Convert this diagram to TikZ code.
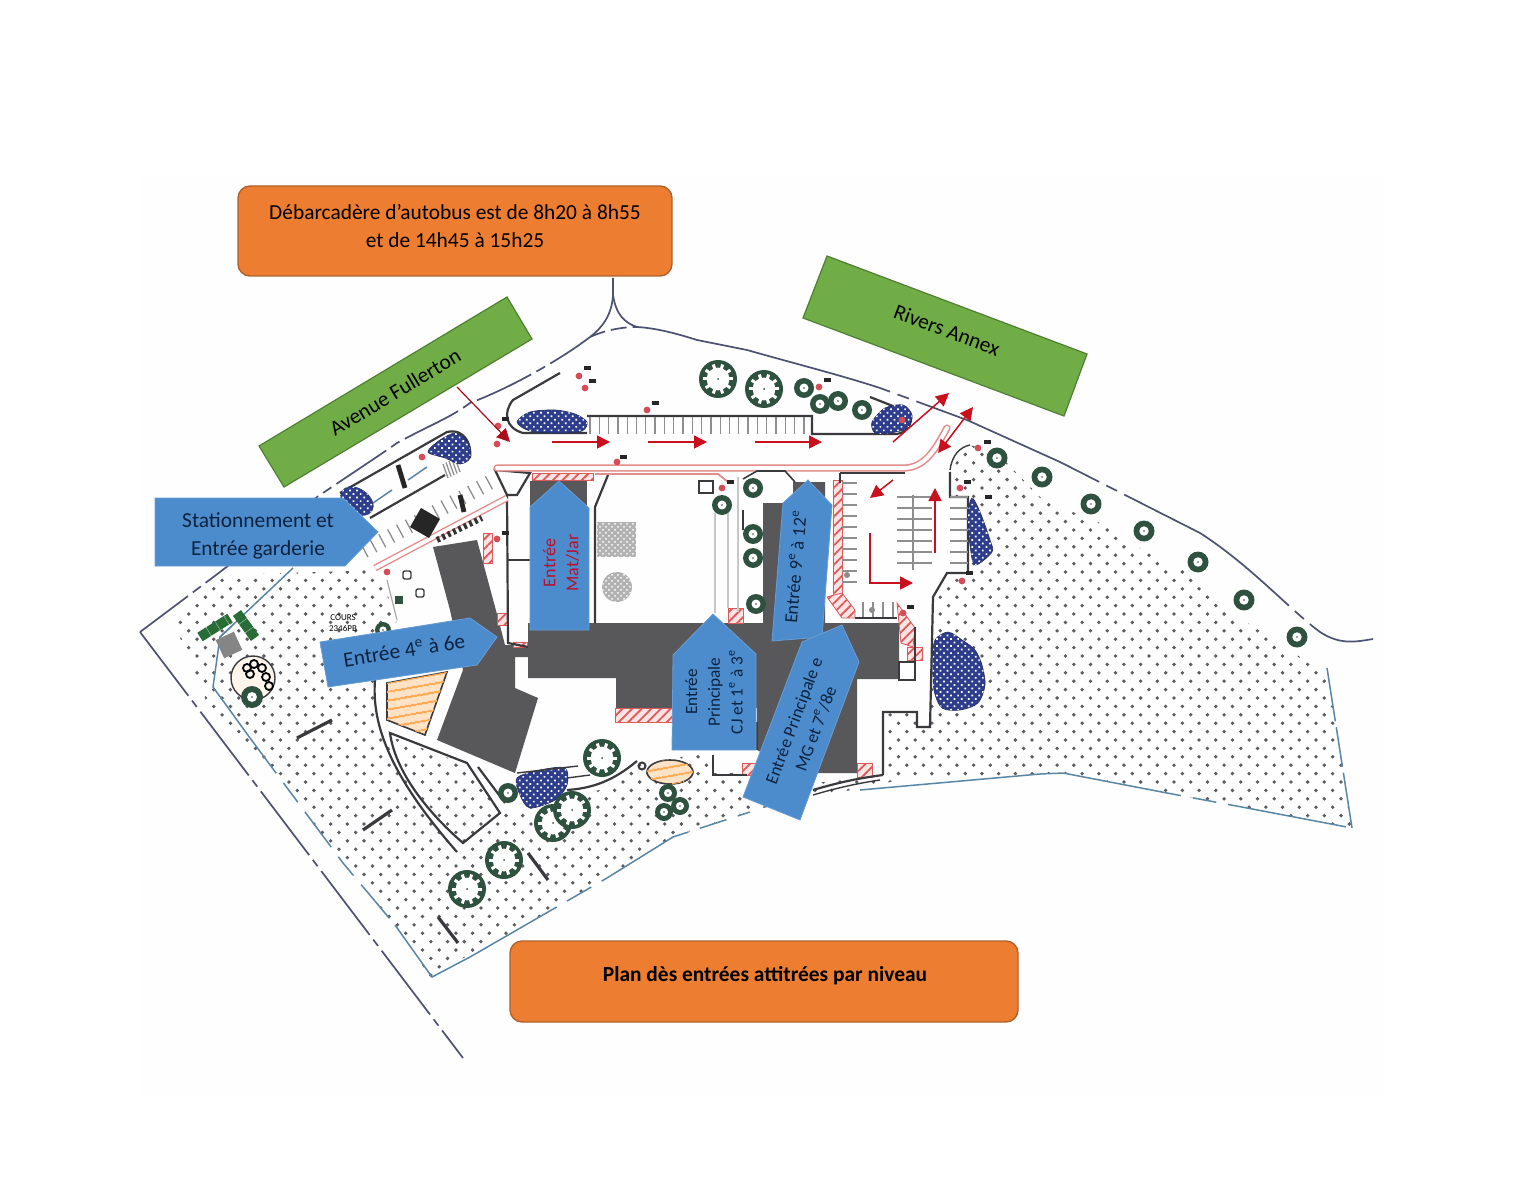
\documentclass[tikz,border=0pt]{standalone}
\usepackage{fontspec}
\setmainfont{Carlito}
\usetikzlibrary{arrows.meta,patterns,patterns.meta}
\definecolor{orangebox}{HTML}{ED7D31}
\definecolor{orangeedge}{HTML}{B0622A}
\definecolor{greenbox}{HTML}{70AD47}
\definecolor{greenedge}{HTML}{4F7F32}
\definecolor{bluebox}{HTML}{4C8CCC}
\definecolor{navytext}{HTML}{0C2340}
\definecolor{matred}{HTML}{B8102E}
\definecolor{arrowred}{HTML}{C8101E}
\definecolor{buildgray}{HTML}{58585B}
\definecolor{linedark}{HTML}{3A3A3E}
\definecolor{sitebound}{HTML}{4E5272}
\definecolor{innerblue}{HTML}{5A86A6}
\definecolor{treeg}{HTML}{2F5240}
\definecolor{hedgeblue}{HTML}{2E3E8C}
\definecolor{dotgray}{HTML}{5C5C60}
\definecolor{hatchpink}{HTML}{FBE3E3}
\definecolor{hatchred}{HTML}{DD5A5A}
\definecolor{roadpink}{HTML}{E58C8C}
\definecolor{tickgray}{HTML}{8E8E8E}
\definecolor{faintbg}{HTML}{FEFEFE}
\tikzset{
  box/.style={draw=orangeedge,fill=orangebox,line width=.7pt,rounded corners=6pt},
  greenblk/.style={draw=greenedge,fill=greenbox,line width=.6pt},
  bluearrow/.style={draw=bluebox!85!white,fill=bluebox,line width=.4pt},
  lbl/.style={font=\fontsize{10.7}{14}\selectfont,text=black,align=center,inner sep=0pt},
  bluelbl/.style={font=\fontsize{10.7}{14}\selectfont,text=navytext,align=center,inner sep=0pt},
  wall/.style={draw=linedark,line width=1.1pt},
  thinwall/.style={draw=linedark,line width=.7pt},
  bound/.style={draw=sitebound,line width=.85pt},
  inblue/.style={draw=innerblue,line width=.75pt},
  hedge/.style={draw=hedgeblue!70!black,line width=.3pt,fill=hedgeblue,postaction={pattern={Dots[radius=.6pt,distance=2.5pt,angle=45]},pattern color=white}},
  hatchzone/.style={draw=hatchred,line width=.4pt,fill=hatchpink,postaction={pattern={Lines[angle=45,distance=3.4pt,line width=.9pt]},pattern color=hatchred}},
  orangezone/.style={draw=linedark,line width=.8pt,fill=orange!22,postaction={pattern={Lines[angle=10,distance=4pt,line width=1.1pt]},pattern color=orange!65}},
  redarrow/.style={draw=arrowred,line width=.75pt,-{Triangle[length=6.5pt,width=6.5pt]}},
  tickline/.style={draw=tickgray,line width=.65pt},
  bench/.style={draw=linedark,line width=1.6pt},
}
\newcommand\smalltree[3]{%
  \fill[treeg] (#1,#2) circle[radius=#3];
  \fill[white] (#1,#2) circle[radius={#3*0.45}];
  \fill[treeg] (#1,#2) circle[radius=.8];}
\newcommand\bigtree[3]{%
  \fill[treeg] (#1,#2) circle[radius=#3];
  \fill[white] (#1,#2) circle[radius={#3*0.6}];
  \foreach \ang in {0,36,...,324}{\draw[white,line width=1.5pt] (#1,#2) -- ++(\ang:{#3*0.8});}
  \fill[treeg] (#1,#2) circle[radius=1];}
\newcommand\redmark[2]{\fill[arrowred!75!white] (#1,#2) circle[radius=3.4];}
\newcommand\blacktag[2]{\fill[black!85] (#1-3.5,#2-2) rectangle (#1+3.5,#2+2);}
\begin{document}
\begin{tikzpicture}[x=.5pt,y=-.5pt]
\useasboundingbox (0,0) rectangle (1536,1187);
\fill[white] (0,0) rectangle (1536,1187);
\fill[faintbg] (140,175) rectangle (1385,1095);
% dotted lawn
\begin{scope}
\clip (172,620)--(225,575)--(378,570)--(397,620)--(375,683)--(378,720)--(393,757)--(420,805)--(457,852)--(500,815)--(545,800)--(600,790)--(637,763)--(713,753)--(713,773)--(747,773)--(815,783)--(883,775)--(883,712)--(917,712)--(917,727)--(930,727)--(933,597)--(947,573)--(968,573)--(968,497)--(950,497)--(950,470)--(970,445)--(997,453)--(1043,500)--(1100,523)--(1143,550)--(1197,577)--(1243,620)--(1300,657)--(1327,668)--(1352,828)--(1247,808)--(1167,793)--(1063,773)--(900,780)--(753,810)--(673,837)--(607,878)--(538,918)--(483,947)--(430,977)--(395,925)--(343,863)--(265,760)--(235,735)--(207,703)--(190,660)--cycle
 (392,737)--(467,765)--(500,813)--(463,843)--(417,793)--cycle;
\foreach \j in {0,...,64}{\foreach \i in {0,...,71}{\fill[dotgray] ({172+16.7*\i+8.35*mod(\j,2)},{446+8.4*\j}) circle[radius=1.9];}}
\end{scope}
% site boundary
\draw[bound,dash pattern=on 40pt off 3pt on 4pt off 3pt] (140,632)--(463,1058);
\draw[bound,dash pattern=on 30pt off 3pt on 5pt off 3pt] (140,632)--(220,572)--(317,497) .. controls (360,468) and (380,455) .. (397,443) .. controls (430,425) and (450,418) .. (470,403) .. controls (510,388) and (560,360) .. (590,337);
\draw[bound] (613,278)--(613,295) .. controls (612,315) and (602,328) .. (590,337);
\draw[bound] (613,295) .. controls (616,315) and (625,323) .. (637,327) .. controls (655,328) and (675,333) .. (697,340);
\draw[bound,dash pattern=on 8pt off 3pt] (590,337) .. controls (603,331) and (620,327) .. (637,327);
\draw[bound,dash pattern=on 100pt off 4pt on 6pt off 4pt] (697,340)--(747,350) .. controls (800,365) and (840,375) .. (880,388)--(967,420)--(1060,462)--(1200,533) .. controls (1250,565) and (1290,610) .. (1320,632) .. controls (1340,645) and (1355,642) .. (1373,639);
% inner blue lines
\draw[inblue] (293,568)--(220,637)--(213,687)--(250,738);
\draw[inblue,dash pattern=on 22pt off 6pt on 12pt off 6pt] (250,738)--(343,863)--(395,925);
\draw[inblue] (395,925)--(432,977)--(470,957);
\draw[inblue,dash pattern=on 50pt off 6pt on 14pt off 6pt] (470,957)--(607,878)--(673,837)--(750,812);
\draw[inblue] (860,790)--(950,782)--(1040,774)--(1063,773);
\draw[inblue,dash pattern=on 60pt off 6pt on 12pt off 6pt] (1063,773)--(1167,793)--(1247,808)--(1352,828);
\draw[inblue,dash pattern=on 28pt off 3pt on 20pt off 3pt] (1352,828)--(1327,668);
% arc roads
\draw[wall] (375,680) .. controls (372,720) and (385,770) .. (457,852);
\draw[wall] (390,733) .. controls (395,770) and (425,810) .. (463,843)--(500,813)--(467,763)--cycle;
\draw[draw=black!35,line width=.6pt] (387,580)--(397,620);
% orange zones
\draw[orangezone] (387,683)--(447,672)--(425,735)--(387,720)--cycle;
\draw[orangezone] (670,772) ellipse[x radius=23,y radius=12];
\draw[thinwall,line width=1pt] (642,766) circle[radius=3.5];
% left corner feature
\draw[draw=linedark,line width=.7pt,fill=orange!8] (253,678) circle[radius=22];
\foreach \p/\q in {247/668,254/664,262/668,266/677,250/674,269/686}{\draw[black,line width=.9pt] (\p,\q) circle[radius=4];}
\draw[draw=treeg!85!green,line width=5pt,dash pattern=on 5pt off .3pt] (200,637)--(230,618);
\draw[draw=treeg!85!green,line width=5pt,dash pattern=on 5pt off .3pt] (237,613)--(255,638);
\fill[black!48,rotate around={25:(229,645)}] (219,635) rectangle (239,655);
\smalltree{252}{697}{11}
\draw[inblue] (232,626)--(220,637);
% buildings
\fill[buildgray] (433,547)--(477,540)--(498,618)--(505,645)--(528,645)--(528,657)--(515,657)--(515,688)--(538,698)--(515,773)--(437,740)--(463,670)--(450,610)--cycle;
\fill[buildgray] (530,481) rectangle (587,625);
\fill[buildgray] (793,482)--(825,482)--(825,625)--(763,625)--(763,503)--(793,503)--cycle;
\fill[buildgray] (528,623)--(899,623)--(899,679)--(857,679)--(857,773)--(800,773)--(757,750)--(757,708)--(616,708)--(616,678)--(528,678)--cycle;
% red hatches
\draw[hatchzone] (532,473) rectangle (593,480);
\draw[hatchzone] (615,708) rectangle (672,722);
\draw[hatchzone] (833,480) rectangle (842,597);
\draw[hatchzone] (827,597)--(842,593)--(855,610)--(855,618)--(842,618)--cycle;
\draw[hatchzone] (897,603)--(915,628)--(913,647)--(901,643)--cycle;
\draw[hatchzone] (728,608) rectangle (743,623);
\draw[hatchzone] (742,763) rectangle (757,775);
\draw[hatchzone] (857,763) rectangle (872,777);
\draw[hatchzone] (907,647) rectangle (922,660);
\draw[hatchzone] (497,613) rectangle (507,625);
\draw[hatchzone] (513,642) rectangle (527,647);
\draw[hatchzone] (483,533) rectangle (492,563);
% walls of the main building
\draw[wall] (495,470)--(530,473)--(517,495)--(507,495)--cycle;
\draw[wall] (507,495)--(508,643)--(528,647);
\draw[thinwall] (508,560)--(530,560);
\draw[wall] (608,475)--(595,507)--(595,623);
\draw[wall] (915,627)--(915,680)--(899,680)--(899,662)--(915,662);
\draw[wall] (883,775)--(883,712)--(917,712)--(917,727)--(930,727)--(933,597)--(947,573)--(968,573)--(968,497)--(950,497)--(950,472);
\draw[thinwall] (950,470) .. controls (952,455) and (960,447) .. (970,445);
\draw[wall] (713,755)--(713,775)--(747,775);
\draw[wall] (813,790) .. controls (840,782) and (860,778) .. (883,775);
\draw[thinwall] (813,795) .. controls (840,787) and (860,783) .. (880,780);
\draw[thinwall] (757,722)--(757,750);
\draw[wall] (743,510)--(743,530);
% mid yard
\draw[thick,draw=black!22] (715,513)--(715,613) (728,513)--(728,608) (738,477)--(738,612);
\draw[thinwall] (699,481) rectangle (713,493);
\fill[black!30] (597,522) rectangle (636,557);
\fill[black!30] (617,587) circle[radius=15];
\path[pattern=crosshatch dots,pattern color=white] (597,522) rectangle (636,557);
\path[pattern=crosshatch dots,pattern color=white] (617,587) circle[radius=15];
% road (double pink)
\draw[draw=roadpink,line width=3.6pt,line cap=round,line join=round] (497,468)--(905,468) .. controls (925,467) and (935,450) .. (947,428);
\draw[draw=white,line width=2pt,line cap=round,line join=round] (497,468)--(905,468) .. controls (925,467) and (935,450) .. (947,428);
\draw[draw=roadpink,line width=3.4pt] (375,568)--(507,498);
\draw[draw=white,line width=2pt] (375,568)--(507,498);
\draw[draw=roadpink,line width=.9pt] (595,474)--(718,474)--(728,482);
\draw[draw=linedark,line width=.8pt] (743,479)--(757,471)--(785,471)--(795,482);
\draw[draw=linedark,line width=.8pt] (840,473)--(905,473);
% lower left parking
\foreach \t in {0,0.07,...,1.0}{\draw[tickline] ({368+127*\t},{557-69*\t}) -- ++(-7,-13);}
\fill[black!85,rotate around={-30:(425,523)}] (414,512) rectangle (436,534);
\draw[black!85,line width=2.4pt] (460,495)--(464,512);
\draw[black!85,line width=2.4pt] (398,465)--(405,488);
\draw[black!80,line width=3pt,dash pattern=on 1.5pt off 1.5pt] (437,540)--(482,518);
% upper left bay
\draw[wall] (340,493)--(447,432) .. controls (465,428) and (472,445) .. (470,458);
\draw[wall] (370,518)--(445,475);
\draw[inblue] (373,503)--(392,490) (408,480)--(427,467);
\foreach \t in {0,.25,.5,.75,1}{\draw[tickline] ({448+12*\t},{478-6*\t}) -- ++(-5,-14);}
\draw[hedge] (357,501) ellipse[x radius=18,y radius=12,rotate=-35];
\draw[hedge] plot[smooth cycle] coordinates {(428,452)(440,440)(456,433)(468,443)(470,458)(460,464)(445,458)};
% top bay
\draw[wall] (560,373)--(513,400) .. controls (503,412) and (505,428) .. (523,433)--(587,433);
\draw[wall] (587,416)--(812,416)--(812,434)--(870,434)--(897,434) .. controls (910,432) and (914,418) .. (908,412)--(870,397);
\foreach \x in {590,599.3,...,812}{\draw[tickline] (\x,417)--(\x,434);}
\draw[hedge] plot[smooth cycle] coordinates {(517,422)(530,412)(555,410)(575,414)(587,422)(582,431)(560,433)(530,431)};
\draw[hedge] plot[smooth cycle] coordinates {(872,422)(885,408)(903,405)(912,415)(908,428)(890,433)(875,433)};
% right parking
\draw[wall] (840,473)--(840,483);
\foreach \y in {483,494,...,583}{\draw[tickline] (842,\y)--(857,\y);}
\foreach \y in {497,508,...,563}{\draw[tickline] (897,\y)--(932,\y);}
\draw[tickline] (913,495)--(913,570);
\foreach \y in {497,508,...,565}{\draw[tickline] (950,\y)--(968,\y);}
\foreach \x in {863,873,...,893}{\draw[tickline] (\x,602)--(\x,617);}
\draw[thinwall] (855,618)--(897,618);
\fill[black!45] (847,575) circle[radius=3];
\fill[black!45] (872,610) circle[radius=3];
% other hedges
\draw[hedge] plot[smooth cycle] coordinates {(972,498)(980,512)(990,540)(992,552)(975,565)(970,545)(968,515)};
\draw[hedge] plot[smooth cycle] coordinates {(935,640)(948,632)(962,640)(975,650)(982,665)(985,685)(978,703)(960,710)(942,708)(934,690)(933,660)};
\draw[hedge] plot[smooth cycle] coordinates {(517,778)(540,770)(565,768)(567,785)(555,800)(530,808)(520,795)};
% lower paths
\draw[thinwall] (517,773)--(578,766) (567,778)--(590,775);
\draw[wall] (567,790) .. controls (600,788) and (620,775) .. (637,761);
\draw[wall] (478,767)--(505,803);
% trees
\foreach \p/\q in {997/458,1042/477,1091/504,1144/531,1198/562,1244/600,1297/637}{\smalltree{\p}{\q}{10.5}}
\foreach \p/\q in {804/388,820/404,838/401,862/410,753/488,722/505,753/534,753/558,756/604,508/793}{\smalltree{\p}{\q}{10}}
\foreach \p/\q in {668/793,664/812,680/806}{\smalltree{\p}{\q}{9}}
\foreach \p/\q in {718/379,764/389,602/758,553/823,572/810,504/860,467/889}{\bigtree{\p}{\q}{19}}
% benches
\draw[bench] (297,738)--(332,720);
\draw[bench] (363,830)--(392,810);
\draw[bench] (438,917)--(458,943);
\draw[bench] (528,853)--(548,880);
% small items
\draw[thinwall,rounded corners=1pt] (403,571) rectangle (411,579);
\draw[thinwall,rounded corners=1pt] (416,589) rectangle (424,597);
\fill[treeg] (395,596) rectangle (403,604);
\smalltree{383}{630}{8}
\node[font=\fontsize{4.5}{5.5}\selectfont,align=center,inner sep=0pt] (cours) at (343,623) {COURS\\2346PB};
% markers
\foreach \p/\q in {579/376,585/388,498/426,497/444,647/410,819/387,617/462,978/448,960/488,962/581,903/613,722/488,422/457,497/539,387/572,902/420}{\redmark{\p}{\q}}
\foreach \p/\q in {587/368,592/381,505/419,655/403,827/380,623/457,987/442,967/482,988/497,969/573,910/607,730/482,505/533}{\blacktag{\p}{\q}}
% red arrows
\draw[redarrow] (552,442)--(610,442);
\draw[redarrow] (648,442)--(707,442);
\draw[redarrow] (755,442)--(822,442);
\draw[redarrow] (893,442)--(949,393);
\draw[redarrow,{Triangle[length=6.5pt,width=6.5pt]}-{Triangle[length=6.5pt,width=6.5pt]}] (938,453)--(973,407);
\draw[redarrow] (893,480)--(870,498);
\draw[redarrow] (935,553)--(935,488);
\draw[redarrow] (870,533)--(870,583)--(913,583);
% blue arrows
\draw[bluearrow] (559,481)--(589,508)--(589,630)--(530,630)--(530,507)--cycle;
\node[font=\fontsize{9}{11.5}\selectfont,text=matred,align=center,rotate=90,inner sep=0pt] (matjar) at (561,563) {Entrée\\Mat/Jar};
\draw[bluearrow] (155,498)--(343,498)--(378,532)--(345,566)--(155,566)--cycle;
\node[bluelbl] (garderie) at (258,536) {Stationnement et\\Entrée garderie};
\draw[bluearrow] (320,642)--(470,618)--(497,637)--(477,665)--(328,687)--cycle;
\node[bluelbl,rotate=9] (quatre) at (404,650) {Entrée 4\textsuperscript{e} à 6e};
\draw[bluearrow] (713,614)--(756,654)--(756,750)--(672,750)--(673,655)--cycle;
\node[font=\fontsize{8.6}{11.4}\selectfont,text=navytext,align=center,rotate=90,inner sep=0pt] (princ) at (714,692) {Entrée\\Principale\\CJ et 1\textsuperscript{e} à 3\textsuperscript{e}};
\draw[bluearrow] (808,480)--(832,505)--(822,637)--(772,641)--(783,503)--cycle;
\node[font=\fontsize{9.2}{11.6}\selectfont,text=navytext,inner sep=0pt,rotate=85] (neuf) at (795,567) {Entrée 9\textsuperscript{e} à 12\textsuperscript{e}};
\draw[bluearrow] (842,625)--(859,662)--(800,820)--(743,797)--(802,642)--cycle;
\node[font=\fontsize{8.8}{11.6}\selectfont,text=navytext,align=center,rotate=69.5,inner sep=0pt] (mg) at (805,725) {Entrée Principale e\\MG et 7\textsuperscript{e}/8e};
% green labels
\draw[greenblk] (259,446)--(507,297)--(532,339)--(284,487)--cycle;
\node[lbl,rotate=31] (fullerton) at (395,392) {Avenue Fullerton};
\draw[greenblk] (827,256)--(1087,354)--(1064,416)--(803,318)--cycle;
\node[lbl,rotate=-20.6] (rivers) at (947,330) {Rivers Annex};
\coordinate (fullertonfoot) at (457,387);
\coordinate (fullertontip) at (510,442);
\draw[draw=arrowred!85!black,line width=.6pt,-{Triangle[length=6.5pt,width=6.5pt]}] (fullertonfoot)--(fullertontip);
% orange boxes
\draw[box] (238,186) rectangle (672,276);
\node[lbl] (bus) at (455,226) {Débarcadère d’autobus est de 8h20 à 8h55\\et de 14h45 à 15h25};
\draw[box] (510,941) rectangle (1018,1022);
\node[lbl,font=\bfseries\fontsize{10.7}{14}\selectfont] (plan) at (765,976) {Plan dès entrées attitrées par niveau};
\end{tikzpicture}
\end{document}
